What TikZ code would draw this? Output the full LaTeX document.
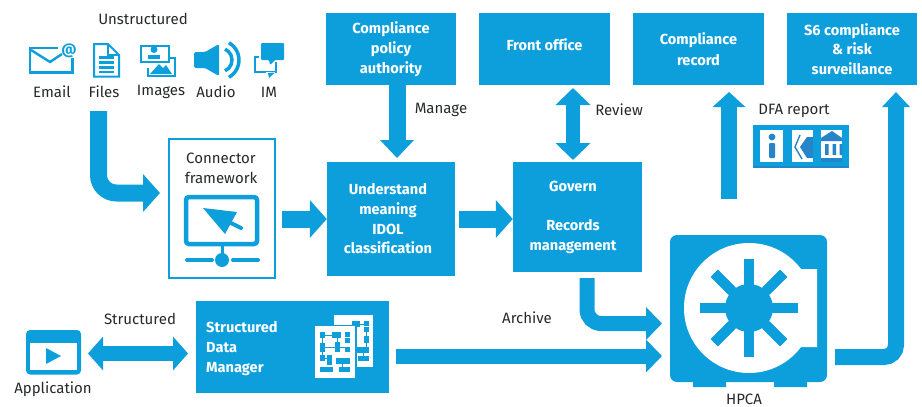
\documentclass[tikz,border=0pt]{standalone}
\usepackage{fontspec}
\setmainfont[Ligatures=NoCommon]{Fira Sans}
\usetikzlibrary{arrows.meta}
\definecolor{hpb}{HTML}{0D9FDC}
\definecolor{hpd}{HTML}{2585C8}
\definecolor{ink}{HTML}{26282A}
\tikzset{
  x=1pt,y=-1pt,
  solidbox/.style={fill=hpb,draw=none,inner sep=0pt,text=white,align=center,font=\fontsize{14.6}{19.7}\selectfont\bfseries,execute at begin node={\vspace*{1.6pt}}},
  lbl/.style={text=ink,inner sep=0pt,font=\fontsize{15}{20}\selectfont,align=center},
  fat/.style={draw=hpb,line width=17pt,-{Triangle[length=17pt,width=37pt]}},
  slim/.style={draw=hpb,line width=15pt,-{Triangle[length=16pt,width=32pt]}},
  upfat/.style={draw=hpb,line width=16.5pt,-{Triangle[length=15pt,width=32pt]}},
  dbl/.style={draw=hpb,line width=15pt,{Triangle[length=15pt,width=33pt]}-{Triangle[length=15pt,width=33pt]}},
  iconline/.style={draw=hpb,line width=2pt},
}
\begin{document}
\begin{tikzpicture}
\useasboundingbox (0,0) rectangle (922,407);
% solid boxes
\node[solidbox,minimum width=130pt,minimum height=72pt] (policy) at (391,49) {Compliance\\policy\\authority};
\node[solidbox,minimum width=131pt,minimum height=72pt] (front) at (544.5,49) {\raisebox{8pt}{Front office}};
\node[solidbox,minimum width=131pt,minimum height=72pt] (record) at (698.5,49) {\raisebox{1pt}{Compliance}\\record};
\node[solidbox,minimum width=130pt,minimum height=72pt] (s6) at (852,49) {S6 compliance\\\&{} risk\\surveillance};
\node[solidbox,minimum width=128pt,minimum height=114pt] (under) at (391,219) {\hspace*{-6pt}Understand\\\hspace*{-6pt}meaning\\\hspace*{-6pt}IDOL\\\hspace*{-6pt}classification};
\node[solidbox,minimum width=129pt,minimum height=110pt] (govern) at (577.5,217) {\hspace*{-9pt}Govern\\[19.6pt]\hspace*{-9pt}Records\\\hspace*{-9pt}management};
\node[solidbox,minimum width=193pt,minimum height=92pt] (sdm) at (292.5,347) {};
\node[solidbox,anchor=west,align=left] (sdmt) at (206,348.5) {Structured\\Data\\Manager};
% connector framework box
\node[draw=hpb,line width=2pt,fill=white,minimum width=106pt,minimum height=139pt,inner sep=0pt] (conn) at (221.5,208) {};
\node[lbl] (connt) at (221,168) {Connector\\framework};
% HPCA vault
\fill[hpb] (693,380) rectangle (726,387) (774,380) rectangle (807,387);
\node[fill=hpb,rounded corners=7pt,minimum width=157pt,minimum height=147pt,inner sep=0pt] (hpca) at (748.5,308.5) {};
\coordinate (hub) at (749,308);
\fill[white] (hub) circle[radius=65pt] (790,269) rectangle (817,347);
\foreach \a in {0,45,...,315}
  \draw[hpb,line width=10pt] (hub) -- ++(\a:49pt);
\fill[white] (hub) circle[radius=25pt];
\fill[hpb] (hub) circle[radius=24pt];
\foreach \a in {0,45,...,315}
  \draw[hpb,line width=10pt] (hub) -- ++(\a:49pt);
% labels
\node[lbl] (unstr) at (143,19) {Unstructured};
\node[lbl] (email) at (52,92) {Email};
\node[lbl] (files) at (104,92) {Files};
\node[lbl] (images) at (161,92) {Images};
\node[lbl] (audio) at (216,92) {Audio};
\node[lbl] (im) at (269,92) {IM};
\node[lbl] (manage) at (441,110) {Manage};
\node[lbl] (review) at (619,110) {Review};
\node[lbl] (dfat) at (794,111) {DFA report};
\node[lbl] (structl) at (140,319) {Structured};
\node[lbl] (archive) at (527,318) {Archive};
\node[lbl] (appl) at (53,389) {Application};
\node[lbl] (hpcat) at (744,399) {HPCA};
% connectors
\coordinate (filesout) at (98.5,111);
\coordinate (filesin) at (160,193);
\coordinate (archivein) at (396,356);
\draw[fat,rounded corners=18pt] (filesout) -- (98.5,193) -- (filesin);
\draw[fat] ([xshift=6pt]conn.east |- under.west) -- (under.west);
\draw[fat] ([xshift=4pt]under.east) -- (govern.west |- under.east);
\draw[fat,line width=17pt,-{Triangle[length=18pt,width=33pt]}] ([yshift=7pt]policy.south -| 397,0) -- (397,158);
\draw[dbl,line width=14pt,{Triangle[length=17pt,width=34pt]}-{Triangle[length=17pt,width=34pt]}] (573,88) -- (573,160);
\draw[upfat] (729,199) -- (729,92);
\draw[upfat,line width=16pt,-{Triangle[length=15pt,width=27pt]},rounded corners=12pt] (835,357) -- (896,357) -- (896,92);
\draw[slim,rounded corners=14pt] (587,278) -- (587,323.5) -- (662,323.5);
\draw[slim] (archivein) -- (662,356);
\draw[dbl] (88,353.5) -- (188,353.5);
% email icon
\draw[iconline,line width=2.4pt] (58,48) -- (30,48) -- (30,72.5) -- (72.5,72.5) -- (72.5,58);
\draw[iconline,line width=2.4pt] (31,50) -- (50,62) -- (62,54);
\node[text=hpb,inner sep=0pt,font=\fontsize{15}{15}\selectfont\bfseries] (at) at (69,51) {@};
% files icon
\draw[iconline] (94,44) -- (108,44) -- (119,55) -- (119,76.5) -- (94,76.5) -- cycle;
\draw[iconline] (108,44) -- (108,55) -- (119,55);
\foreach \yy in {57.5,62.5,67.5,72} \draw[hpb,line width=2.5pt] (99,\yy) -- (114,\yy);
% images icon
\draw[iconline] (148,77) -- (148,68) (148,76) -- (175,76) -- (175,58) -- (168,58);
\fill[hpb] (150,74) -- (159,64) -- (163,68) -- (166,65) -- (172,74) -- cycle;
\draw[iconline] (141,46) rectangle (169,62);
\fill[hpb] (154,49.5) circle[radius=3.5pt];
\fill[hpb] (148,54.5) rectangle (160,59);
% audio icon
\fill[hpb,rounded corners=1.5pt] (194,52) -- (205,52) -- (219,44) -- (219,76) -- (205,68) -- (194,68) -- cycle;
\draw[hpb,line width=3.5pt] (220,60) ++(-65:12pt) arc[start angle=-65,end angle=65,radius=12pt];
\draw[hpb,line width=3.5pt] (219,60) ++(-60:20pt) arc[start angle=-60,end angle=60,radius=20pt];
% IM icon
\draw[iconline] (255,57) rectangle (276,72);
\fill[white] (266,72) rectangle (275,74);
\fill[hpb] (268,73) -- (269,78) -- (275,72.5) -- cycle;
\fill[white] (259,41) rectangle (286,62);
\fill[hpb,rounded corners=1pt] (261,43) -- (284,43) -- (284,60) -- (275,60) -- (270,65) -- (269,60) -- (261,60) -- cycle;
% cursor monitor
\draw[hpb,line width=4.5pt,rounded corners=3pt] (186,197) rectangle (257,244);
\fill[hpb] (203,208) -- (237,212) -- (225,234) -- cycle;
\draw[hpb,line width=4pt,line cap=round] (225,220) -- (241,228);
\draw[hpb,line width=3pt] (222,246) -- (222,258);
\fill[hpb] (222,260) circle[radius=7pt];
\draw[hpb,line width=4pt,line cap=round] (187,260) -- (212,260) (233,260) -- (258,260);
% application icon
\fill[hpb,rounded corners=4pt] (26,330) rectangle (81,374.5);
\fill[white] (30,343) rectangle (77,370);
\fill[hpb] (46,348) -- (61,356) -- (46,364) -- cycle;
% SDM pages
\fill[white] (334,315) rectangle (373,367);
\foreach \xa/\ya/\xb/\yb in {352/321/360/327,363.5/321/369/326,363.5/327/369/332,363.5/336/369/343,356/347/369/353,358/356/369/361}
  \fill[hpb] (\xa,\ya) rectangle (\xb,\yb);
\draw[hpb,line width=1pt] (360,324) -- (366,324) (366,332) -- (366,347) (363,356) -- (363,353);
\fill[hpb] (313.5,324.5) rectangle (356.5,379.5);
\fill[white] (315,326) rectangle (355,378);
\foreach \xa/\ya/\xb/\yb in {320/332/325/338,332/332/341/338,344.5/332/350/337,344.5/338/350/343,320/343/325/352,334.5/342/339.5/352,344.5/347/350/352,320/355/325/361,327/355/332/365,336/358/349.5/364,320/367/333/372,339/367/349.5/372}
  \fill[hpb] (\xa,\ya) rectangle (\xb,\yb);
\draw[hpb,line width=1pt] (325,335) -- (332,335) (325,347) -- (334.5,347) (339.5,347) -- (344.5,347) (337,338) -- (337,342) (322.5,338) -- (322.5,343) (322.5,352) -- (322.5,355) (325,358) -- (327,358) (342,364) -- (342,367);
% DFA report
\fill[hpb] (753,125) rectangle (849,167);
\fill[hpd] (753,166) rectangle (849,167.5);
\fill[white] (760,130) rectangle (783,162);
\fill[white] (792,130) rectangle (813,162);
\fill[white] (821,130) rectangle (842,162);
\fill[hpd] (772,137) circle[radius=3.4pt];
\fill[hpd,rounded corners=1pt] (769,143) rectangle (775,158);
\draw[hpd,line width=1.4pt] (800,135) -- (795,147) -- (802,159);
\fill[hpd] (807,137) -- (800,147) -- (807,158) -- (813,158) -- (813,137) -- cycle;
\fill[hpd] (821,141) -- (821,138) -- (832,131) -- (842,138) -- (842,141) -- cycle;
\fill[hpd] (825,144) rectangle (828.5,155) (832.5,144) rectangle (836,155) (839.5,144) rectangle (842,155);
\fill[hpd] (821,158) rectangle (842,162);
\end{tikzpicture}
\end{document}
